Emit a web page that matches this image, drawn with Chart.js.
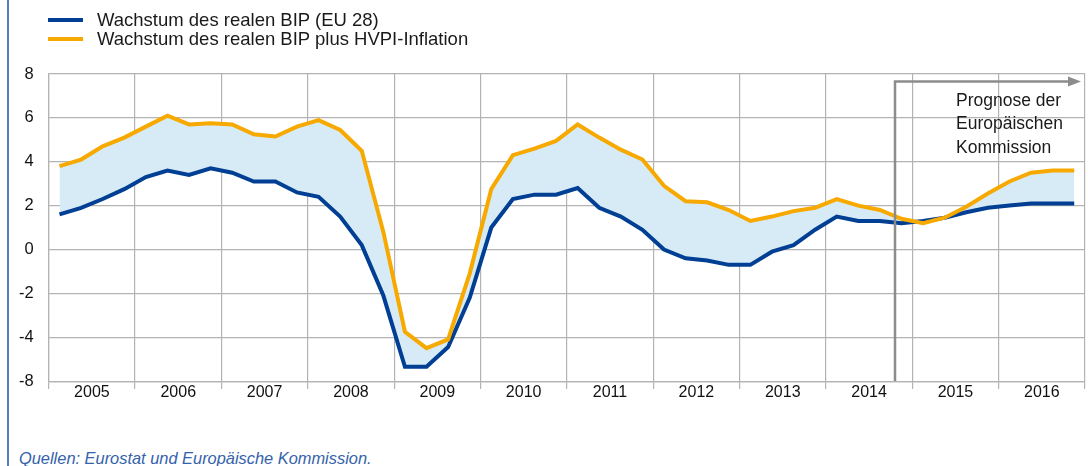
<!DOCTYPE html>
<html lang="de">
<head>
<meta charset="utf-8">
<script src="https://cdn.jsdelivr.net/npm/chart.js@4"></script>
<style>
  body { margin: 0; background: #fff; font-family: "Liberation Sans", Arial, sans-serif; }
  #page { position: relative; width: 1088px; height: 466px; overflow: hidden; }
  #side-line { position: absolute; left: 7px; top: 0; width: 2px; height: 466px; background: #5a7cbd; }
  #chart-box { position: absolute; left: 0; top: 0; width: 1088px; height: 406px; }
  .legend-row { position: absolute; left: 0; height: 20px; }
  .legend-row .swatch { position: absolute; left: 48px; top: 8px; width: 35px; height: 4px; }
  .legend-row .label { position: absolute; left: 97px; top: 0; font-size: 18.5px; line-height: 20px; color: #1a1a1a; white-space: nowrap; }
  #source { position: absolute; left: 19px; top: 448px; font-size: 16.4px; line-height: 20px; font-style: italic; color: #3562aa; white-space: nowrap; }
</style>
</head>
<body>
<div id="page">
  <div id="side-line"></div>
  <div id="chart-box"><canvas id="chart-wrapper"></canvas></div>
  <div id="legend"></div>
  <div id="source">Quellen: Eurostat und Europäische Kommission.</div>
</div>
<script>
// years on the x axis, four quarters each
const years = ["2005", "2006", "2007", "2008", "2009", "2010", "2011", "2012", "2013", "2014", "2015", "2016"];

// y axis ticks as printed in the original (the bottom one reads -8)
const yTickValues = [-6, -4, -2, 0, 2, 4, 6, 8];
const yTickLabels = ["-8", "-4", "-2", "0", "2", "4", "6", "8"];

const seriesNames = [
  "Wachstum des realen BIP (EU 28)",
  "Wachstum des realen BIP plus HVPI-Inflation"
];

// quarterly values, 2005 Q1 .. 2016 Q4
const gdp = [
  1.6, 1.9, 2.3, 2.75, 3.3, 3.6, 3.4, 3.7, 3.5, 3.1, 3.1, 2.6,
  2.4, 1.5, 0.2, -2.1, -5.35, -5.35, -4.45, -2.2, 1.0, 2.3, 2.5, 2.5,
  2.8, 1.9, 1.5, 0.9, 0.0, -0.4, -0.5, -0.7, -0.7, -0.1, 0.2, 0.9,
  1.5, 1.3, 1.3, 1.2, 1.3, 1.45, 1.7, 1.9, 2.0, 2.1, 2.1, 2.1
];
const gdpPlusHicp = [
  3.8, 4.1, 4.7, 5.1, 5.6, 6.1, 5.7, 5.75, 5.7, 5.25, 5.15, 5.6,
  5.9, 5.45, 4.5, 0.8, -3.75, -4.5, -4.1, -1.1, 2.75, 4.3, 4.6, 4.95,
  5.7, 5.1, 4.55, 4.1, 2.9, 2.2, 2.15, 1.8, 1.3, 1.5, 1.75, 1.9,
  2.3, 2.0, 1.8, 1.4, 1.2, 1.45, 1.95, 2.55, 3.1, 3.5, 3.6, 3.6
];

// forecast starts here (in quarters from 2005 Q1)
const forecastStart = 39.2;
const forecastText = ["Prognose der", "Europäischen", "Kommission"];

const blue = "#003f93";
const orange = "#f7a900";
const gridColor = "#b3b3b3";

// html legend
let legend = document.getElementById("legend");
[blue, orange].forEach((color, i) => {
  let row = document.createElement("div");
  row.className = "legend-row";
  row.style.top = (10 + i * 18.7) + "px";
  row.innerHTML = '<span class="swatch" style="background:' + color + '"></span><span class="label">' + seriesNames[i] + "</span>";
  legend.appendChild(row);
});

function toPoints(values) {
  return values.map((v, i) => ({ x: i + 0.5, y: v }));
}

// grey forecast marker with arrow and caption
const forecastPlugin = {
  id: "forecastMarker",
  afterDatasetsDraw: (chart) => {
    const { ctx, chartArea, scales } = chart;
    const x0 = scales.x.getPixelForValue(forecastStart);
    const top = chartArea.top + 7.5;
    const right = chartArea.right - 4;
    ctx.save();
    ctx.strokeStyle = "#8c8c8c";
    ctx.fillStyle = "#8c8c8c";
    ctx.lineWidth = 2.5;
    ctx.beginPath();
    ctx.moveTo(x0, chartArea.bottom);
    ctx.lineTo(x0, top);
    ctx.lineTo(right - 10, top);
    ctx.stroke();
    ctx.beginPath();
    ctx.moveTo(right, top);
    ctx.lineTo(right - 13, top - 5);
    ctx.lineTo(right - 13, top + 5);
    ctx.closePath();
    ctx.fill();

    ctx.fillStyle = "#1a1a1a";
    ctx.font = '17.5px "Liberation Sans", Arial, sans-serif';
    ctx.textBaseline = "alphabetic";
    ctx.textAlign = "left";
    forecastText.forEach((line, i) => {
      ctx.fillText(line, x0 + 61, top + 24 + i * 23.5);
    });
    ctx.restore();
  },
};

const ctx = document.getElementById("chart-wrapper");
let myChart = new Chart(ctx, {
  type: "line",
  data: {
    datasets: [
      {
        label: seriesNames[0],
        data: toPoints(gdp),
        borderColor: blue,
        borderWidth: 4,
        pointRadius: 0,
        fill: false,
        tension: 0,
        order: 1,
      },
      {
        label: seriesNames[1],
        data: toPoints(gdpPlusHicp),
        borderColor: orange,
        borderWidth: 4,
        pointRadius: 0,
        fill: { target: 0 },
        backgroundColor: "#d6ebf6",
        tension: 0,
        order: 0,
      },
    ],
  },
  options: {
    responsive: true,
    maintainAspectRatio: false,
    animation: false,
    layout: { padding: { top: 74, right: 3, left: 0, bottom: 0 } },
    scales: {
      x: {
        type: "linear",
        min: 0,
        max: years.length * 4,
        afterBuildTicks: (scale) => {
          let ticks = [];
          for (let v = 0; v <= years.length * 4; v += 2) ticks.push({ value: v });
          scale.ticks = ticks;
        },
        afterFit: (scale) => {
          scale.height = 18.7;
        },
        grid: {
          color: (c) => (c.tick && c.tick.value % 4 === 0 ? gridColor : "rgba(0,0,0,0)"),
          lineWidth: 1.2,
          tickLength: 8,
        },
        border: { color: gridColor, width: 1.2 },
        ticks: {
          autoSkip: false,
          maxRotation: 0,
          padding: -6,
          color: "#111",
          font: { family: '"Liberation Sans", Arial, sans-serif', size: 16 },
          callback: (value) => (value % 4 === 2 ? years[(value - 2) / 4] : ""),
        },
      },
      y: {
        min: yTickValues[0],
        max: yTickValues[yTickValues.length - 1],
        afterBuildTicks: (scale) => {
          scale.ticks = yTickValues.map((v) => ({ value: v }));
        },
        afterFit: (scale) => {
          scale.width = 48.7;
        },
        grid: { color: gridColor, lineWidth: 1.2, drawTicks: false },
        border: { color: gridColor, width: 1.2 },
        ticks: {
          padding: 15,
          color: "#111",
          font: { family: '"Liberation Sans", Arial, sans-serif', size: 16.5 },
          callback: (value) => yTickLabels[yTickValues.indexOf(value)],
        },
      },
    },
    plugins: {
      legend: { display: false },
      tooltip: { enabled: false },
      filler: { drawTime: "beforeDatasetsDraw" },
    },
  },
  plugins: [forecastPlugin],
});
</script>
</body>
</html>
